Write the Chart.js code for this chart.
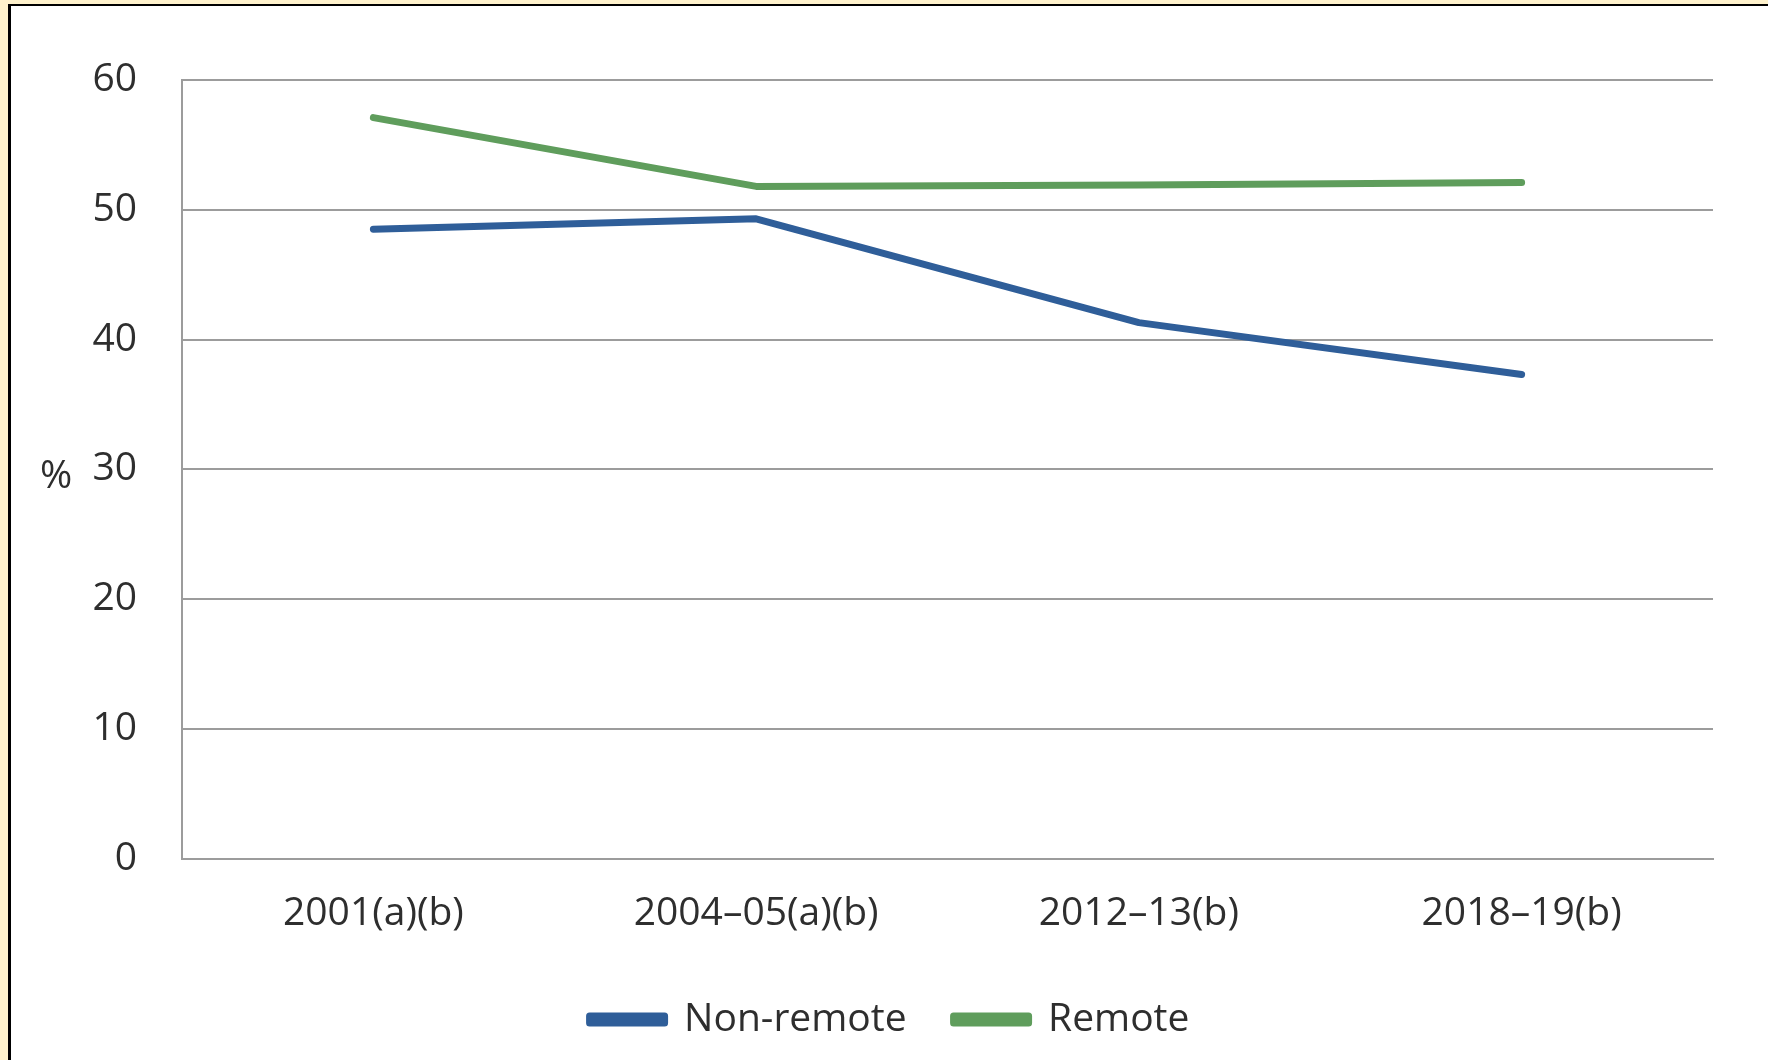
<!DOCTYPE html>
<html>
<head>
<meta charset="utf-8">
<script src="https://cdn.jsdelivr.net/npm/chart.js"></script>
<style>
  html, body {
    margin: 0;
    padding: 0;
    overflow: hidden;
    background: #fff2cc;
  }
  .frame {
    position: absolute;
    left: 8px;
    top: 4px;
    width: 1780px;
    height: 1080px;
    background: #ffffff;
    border-left: 3px solid #000000;
    border-top: 2px solid #000000;
  }
  .chart-box {
    position: absolute;
    left: 0;
    top: 0;
    width: 1757px;
    height: 1043px;
  }
</style>
</head>
<body>
<div class="frame">
  <div class="chart-box"><canvas id="remoteChart"></canvas></div>
</div>
<script>
// Survey years
const years = ["2001(a)(b)", "2004\u201305(a)(b)", "2012\u201313(b)", "2018\u201319(b)"];

// Percentages by remoteness
const nonRemote = [48.5, 49.3, 41.3, 37.3];
const remote = [57.1, 51.8, 51.9, 52.1];

// Y axis range
const yMin = 0;
const yMax = 60;
const yStep = 10;

const fontFamily = "'Open Sans', 'Noto Sans', sans-serif";
const textColor = "#2e2e2e";
const gridColor = "#9c9c9c";

// draws the horizontal "%" unit next to the y ticks
const percentLabel = {
  id: "percentLabel",
  afterDraw(chart) {
    const ctx = chart.ctx;
    const y = chart.scales.y.getPixelForValue(30);
    ctx.save();
    ctx.font = "39px " + fontFamily;
    ctx.fillStyle = textColor;
    ctx.textAlign = "center";
    ctx.textBaseline = "middle";
    ctx.fillText("%", chart.chartArea.left - 126, y + 8);
    ctx.restore();
  },
};

document.addEventListener("DOMContentLoaded", function () {
  Chart.defaults.font.family = fontFamily;
  Chart.defaults.color = textColor;

  new Chart(document.getElementById("remoteChart"), {
    type: "line",
    data: {
      labels: years,
      datasets: [
        {
          label: "Non-remote",
          data: nonRemote,
          borderColor: "#2f5e99",
          backgroundColor: "#2f5e99",
          borderWidth: 7,
          borderCapStyle: "round",
          borderJoinStyle: "round",
          pointRadius: 0,
          tension: 0,
        },
        {
          label: "Remote",
          data: remote,
          borderColor: "#5f9d5c",
          backgroundColor: "#5f9d5c",
          borderWidth: 7,
          borderCapStyle: "round",
          borderJoinStyle: "round",
          pointRadius: 0,
          tension: 0,
        },
      ],
    },
    options: {
      responsive: true,
      maintainAspectRatio: false,
      animation: false,
      layout: {
        padding: { left: 55, right: 55, top: 74, bottom: 0 },
      },
      plugins: {
        legend: {
          position: "bottom",
          labels: {
            boxWidth: 75,
            boxHeight: 7,
            padding: 47,
            color: textColor,
            font: { size: 39 },
          },
        },
        tooltip: { enabled: false },
      },
      scales: {
        x: {
          offset: true,
          grid: { display: false, drawTicks: false },
          border: { display: true, color: gridColor, width: 2 },
          ticks: {
            padding: 32,
            maxRotation: 0,
            font: { size: 39 },
          },
          afterFit(scale) {
            scale.height = 94.5;
          },
        },
        y: {
          min: yMin,
          max: yMax,
          grid: {
            color: gridColor,
            lineWidth: 2,
            drawTicks: false,
          },
          border: { display: true, color: gridColor, width: 2 },
          ticks: {
            stepSize: yStep,
            padding: 45,
            font: { size: 39 },
          },
          afterFit(scale) {
            scale.width = 116;
          },
        },
      },
    },
    plugins: [percentLabel],
  });
});
</script>
</body>
</html>
